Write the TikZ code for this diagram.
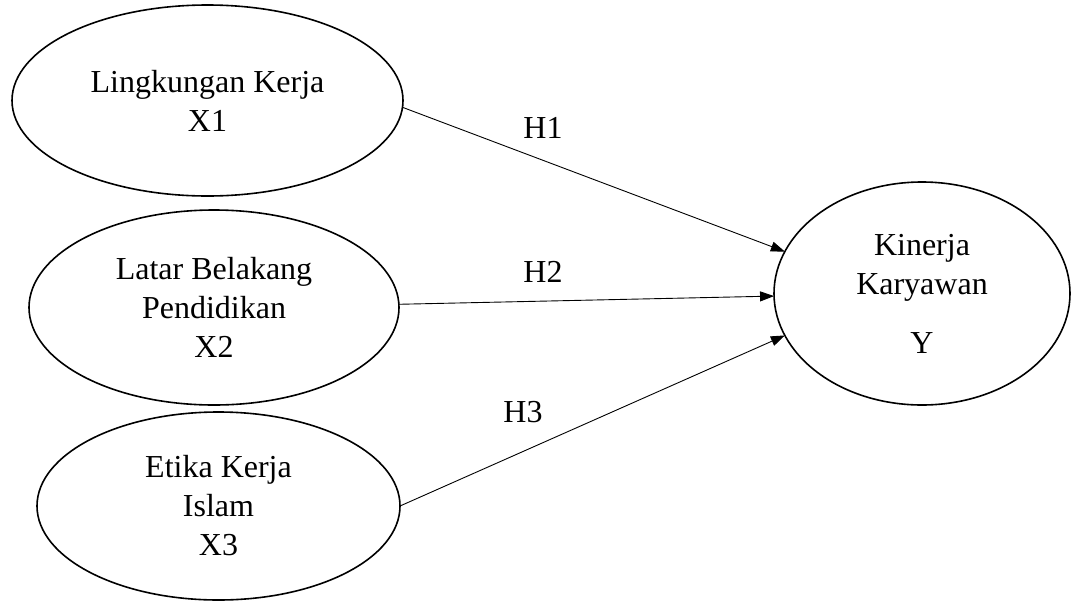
\documentclass[tikz,border=0pt]{standalone}
\usepackage{fontspec}
\setmainfont{Liberation Serif}
\usetikzlibrary{shapes.geometric,arrows.meta}
\begin{document}
\begin{tikzpicture}[x=1pt,y=-1pt,
  var/.style={draw, ellipse, line width=1.6pt, inner sep=0pt, outer sep=0pt, align=center,
    font=\fontsize{32}{39}\selectfont},
  link/.style={line width=0.9pt, -{Triangle[length=14pt,width=10pt]}},
  hyp/.style={anchor=base, font=\fontsize{32}{39}\selectfont}]
\useasboundingbox (0,0) rectangle (1071,603);
\node[var, minimum width=391pt, minimum height=191pt] (x1) at (207.5,100.5) {Lingkungan Kerja\\X1};
\node[var, minimum width=370pt, minimum height=195pt] (x2) at (214,307.5) {Latar Belakang\\Pendidikan\\X2};
\node[var, minimum width=363pt, minimum height=188pt] (x3) at (218.5,506) {Etika Kerja\\Islam\\X3};
\node[var, minimum width=296pt, minimum height=223pt] (y) at (922,293.5) {Kinerja\\Karyawan\\[20pt]Y};
\draw[link] (x1.-2) -- (y.163.5);
\draw[link] (x2.1) -- (y.181);
\draw[link] (x3.0) -- (y.197);
\node[hyp] (h1) at (543,138) {H1};
\node[hyp] (h2) at (543,282) {H2};
\node[hyp] (h3) at (523,422) {H3};
\end{tikzpicture}
\end{document}
